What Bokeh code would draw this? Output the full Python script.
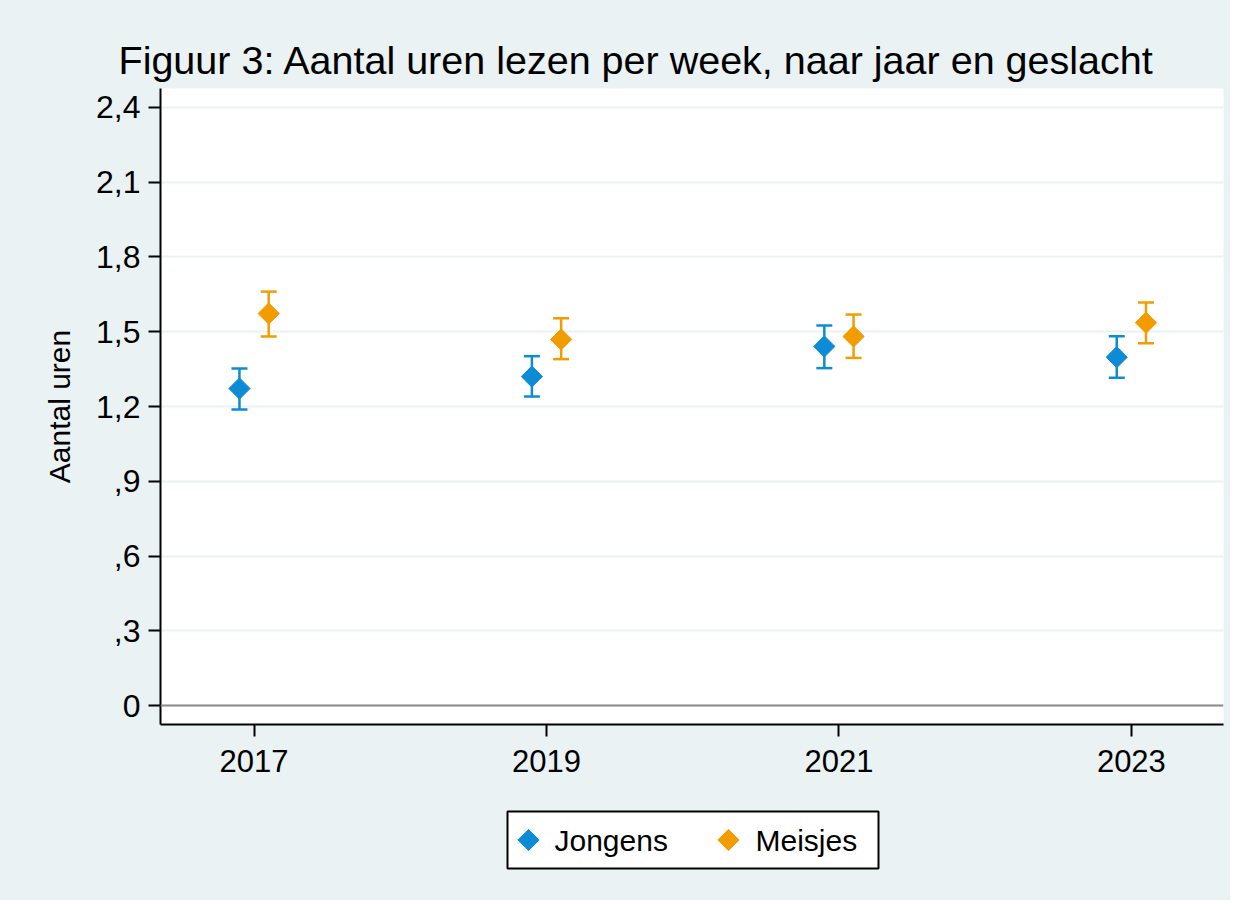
from bokeh.plotting import figure
from bokeh.layouts import column
from bokeh.models import (ColumnDataSource, Whisker, TeeHead, Span, FixedTicker, Range1d, Title)
from bokeh.core.properties import value
from bokeh.embed import file_html
from bokeh.resources import INLINE

years = [2017, 2019, 2021, 2023]
jongens = [1.272, 1.320, 1.441, 1.398]
jongens_lo = [1.188, 1.240, 1.354, 1.315]
jongens_hi = [1.352, 1.402, 1.525, 1.482]
meisjes = [1.573, 1.469, 1.481, 1.536]
meisjes_lo = [1.481, 1.390, 1.395, 1.454]
meisjes_hi = [1.661, 1.554, 1.569, 1.617]
y_ticks = [0, 0.3, 0.6, 0.9, 1.2, 1.5, 1.8, 2.1, 2.4]
y_tick_labels = ["0", ",3", ",6", ",9", "1,2", "1,5", "1,8", "2,1", "2,4"]
title_text = "Figuur 3: Aantal uren lezen per week, naar jaar en geslacht"
y_label = "Aantal uren"
names = ["Jongens", "Meisjes"]

BLUE = "#0D8CD5"
ORANGE = "#F39C00"
BG = "#EAF2F3"
FONT = "Liberation Sans"
off = 0.1
W = 1230
FRAME_W = 1063

p = figure(width=W, height=800, output_backend="svg", toolbar_location=None,
           x_range=Range1d(2016.36, 2023.63), y_range=Range1d(-0.076, 2.476),
           min_border_left=160, min_border_right=7, min_border_top=88, min_border_bottom=76)
p.border_fill_color = BG
p.border_fill_alpha = 0
p.background_fill_color = "white"
p.outline_line_color = None

t = Title(text=title_text, text_font=FONT, text_font_size="39.5px", text_font_style="normal",
          text_color="black", align="left", offset=-42, standoff=13)
p.add_layout(t, "above")

src_j = ColumnDataSource(dict(x=[y - off for y in years], y=jongens, lo=jongens_lo, hi=jongens_hi))
src_m = ColumnDataSource(dict(x=[y + off for y in years], y=meisjes, lo=meisjes_lo, hi=meisjes_hi))

# grid
p.xgrid.grid_line_color = None
p.ygrid.ticker = FixedTicker(ticks=y_ticks)
p.ygrid.grid_line_color = BG
p.ygrid.grid_line_width = 2

p.add_layout(Span(location=0, dimension="width", line_color="#8C8C8C", line_width=2))

for src, col in [(src_j, BLUE), (src_m, ORANGE)]:
    w = Whisker(source=src, base="x", lower="lo", upper="hi", line_color=col, line_width=2.5,
                upper_head=TeeHead(size=16, line_color=col, line_width=2.5),
                lower_head=TeeHead(size=16, line_color=col, line_width=2.5))
    p.add_layout(w)

p.scatter("x", "y", source=src_j, marker="square", size=15, angle=0.785398,
          fill_color=BLUE, line_color=BLUE)
p.scatter("x", "y", source=src_m, marker="square", size=15, angle=0.785398,
          fill_color=ORANGE, line_color=ORANGE)

# axes
p.xaxis.ticker = FixedTicker(ticks=years)
p.xaxis.major_label_overrides = {y: str(y) for y in years}
p.yaxis.ticker = FixedTicker(ticks=y_ticks)
p.yaxis.major_label_overrides = {v: l for v, l in zip(y_ticks, y_tick_labels)}
p.yaxis.axis_label = y_label
for ax in (p.xaxis[0], p.yaxis[0]):
    ax.axis_line_color = "black"
    ax.axis_line_width = 2
    ax.major_tick_line_color = "black"
    ax.major_tick_line_width = 2
    ax.major_tick_out = 12
    ax.major_tick_in = 0
    ax.minor_tick_line_color = None
    ax.major_label_text_font = FONT
    ax.major_label_text_color = "black"
p.xaxis.major_label_text_font_size = "31px"
p.yaxis.major_label_text_font_size = "32px"
p.xaxis.major_label_standoff = 13
p.yaxis.major_label_standoff = 8
p.yaxis.axis_label_text_font = FONT
p.yaxis.axis_label_text_font_size = "30px"
p.yaxis.axis_label_text_font_style = "normal"
p.yaxis.axis_label_text_color = "black"
p.yaxis.axis_label_standoff = 17

# legend panel: a second figure whose frame is aligned with the main frame,
# using pixel-like units (0..FRAME_W by 0..100)
q = figure(width=W, height=100, output_backend="svg", toolbar_location=None,
           x_axis_type=None, y_axis_type=None,
           x_range=Range1d(0, FRAME_W), y_range=Range1d(0, 100),
           min_border_left=160, min_border_right=7, min_border_top=0, min_border_bottom=0)
q.border_fill_alpha = 0
q.background_fill_alpha = 0
q.outline_line_color = None

# legend layout (box, key markers, labels)
box_l, box_r, box_b, box_t = 347, 718, 32, 89
key_x = [368, 568]
lab_x = [394, 595]
row_y = 60.5
q.quad(left=[box_l], right=[box_r], bottom=[box_b], top=[box_t],
       fill_color="white", line_color="black", line_width=2)
q.scatter(x=key_x, y=[row_y, row_y], marker="square", size=15, angle=0.785398,
          fill_color=[BLUE, ORANGE], line_color=[BLUE, ORANGE])
q.text(x=lab_x, y=[row_y, row_y], text=names, text_font=value(FONT), text_font_size="30px",
       text_color="black", text_baseline="middle", text_align="left")

layout = column(p, q, spacing=0, styles={"background-color": BG})
open("out.html", "w").write(file_html(layout, INLINE))
